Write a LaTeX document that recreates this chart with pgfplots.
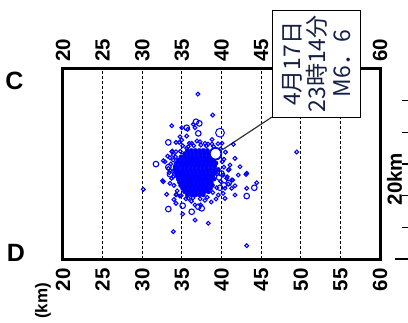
\documentclass[border=0pt]{standalone}
\usepackage{pgfplots}
\pgfplotsset{compat=1.18}
\usepackage{fontspec}
\setmainfont{Liberation Sans}
\newfontfamily\cjk{Noto Sans CJK JP}
\usetikzlibrary{calc}
\definecolor{annot}{RGB}{20,30,70}
\definecolor{leader}{RGB}{50,50,50}
\tikzset{secfont/.style={font=\bfseries\fontsize{20.5bp}{20.5bp}\selectfont}}
\pgfplotsset{
  base/.style={width=317bp,height=190bp,scale only axis,
    xmin=20,xmax=60,ymin=0,ymax=24,
    xtick={20,25,...,60},ytick=\empty,major tick length=0pt,
    /pgf/number format/assume math mode=true}
}
\begin{document}
\begin{tikzpicture}
\begin{axis}[name=ax, base, clip=false,
  axis line style={line width=3bp},
  xmajorgrids, major grid style={black, line width=1.1bp, dash pattern=on 3bp off 2bp},
  xticklabel style={secfont, rotate=90, anchor=east, inner sep=0pt},
  xticklabel shift=9bp]
% dense core of the aftershock cluster
\addplot[only marks, mark=*, mark size=2.2bp, color=blue,
  mark options={draw=blue, fill=blue, line width=0.4bp}] coordinates {
(35.7,13.7)(36.2,13.7)(36.7,13.7)(37.2,13.7)(37.7,13.7)(38.2,13.7)
(35.35,13.3)(35.85,13.3)(36.35,13.3)(36.85,13.3)(37.35,13.3)(37.85,13.3)(38.35,13.3)(38.85,13.3)
(34.9,12.9)(35.4,12.9)(35.9,12.9)(36.4,12.9)(36.9,12.9)(37.4,12.9)(37.9,12.9)(38.4,12.9)(38.9,12.9)
(34.55,12.5)(35.05,12.5)(35.55,12.5)(36.05,12.5)(36.55,12.5)(37.05,12.5)(37.55,12.5)(38.05,12.5)(38.55,12.5)(39.05,12.5)
(34.3,12.1)(34.8,12.1)(35.3,12.1)(35.8,12.1)(36.3,12.1)(36.8,12.1)(37.3,12.1)(37.8,12.1)(38.3,12.1)(38.8,12.1)(39.3,12.1)
(34.15,11.7)(34.65,11.7)(35.15,11.7)(35.65,11.7)(36.15,11.7)(36.65,11.7)(37.15,11.7)(37.65,11.7)(38.15,11.7)(38.65,11.7)(39.15,11.7)
(34.1,11.3)(34.6,11.3)(35.1,11.3)(35.6,11.3)(36.1,11.3)(36.6,11.3)(37.1,11.3)(37.6,11.3)(38.1,11.3)(38.6,11.3)(39.1,11.3)(39.6,11.3)
(34.25,10.9)(34.75,10.9)(35.25,10.9)(35.75,10.9)(36.25,10.9)(36.75,10.9)(37.25,10.9)(37.75,10.9)(38.25,10.9)(38.75,10.9)(39.25,10.9)
(34.4,10.5)(34.9,10.5)(35.4,10.5)(35.9,10.5)(36.4,10.5)(36.9,10.5)(37.4,10.5)(37.9,10.5)(38.4,10.5)(38.9,10.5)
(34.55,10.1)(35.05,10.1)(35.55,10.1)(36.05,10.1)(36.55,10.1)(37.05,10.1)(37.55,10.1)(38.05,10.1)(38.55,10.1)(39.05,10.1)
(34.7,9.7)(35.2,9.7)(35.7,9.7)(36.2,9.7)(36.7,9.7)(37.2,9.7)(37.7,9.7)(38.2,9.7)(38.7,9.7)
(34.85,9.3)(35.35,9.3)(35.85,9.3)(36.35,9.3)(36.85,9.3)(37.35,9.3)(37.85,9.3)(38.35,9.3)(38.85,9.3)
(35.1,8.9)(35.6,8.9)(36.1,8.9)(36.6,8.9)(37.1,8.9)(37.6,8.9)(38.1,8.9)(38.6,8.9)
(35.35,8.5)(35.85,8.5)(36.35,8.5)(36.85,8.5)(37.35,8.5)(37.85,8.5)(38.35,8.5)
(35.7,8.1)(36.2,8.1)(36.7,8.1)(37.2,8.1)(37.7,8.1)
};
% small events
\addplot[only marks, mark=o, mark size=1.9bp, color=blue, mark options={line width=1.1bp}] coordinates {
(37.03,20.83)(38.89,18.18)(33.72,16.83)(34.98,16.58)(35.73,16.38)(36.44,17.01)(36.66,16.58)
(35.61,15.53)(34.76,15.44)(34.98,15.03)(34.67,14.73)(34.26,14.73)(35.94,14.61)(37.92,14.61)
(38.30,14.52)(38.80,14.52)(39.56,14.56)(40.06,14.61)(41.49,14.48)(33.72,13.55)(33.92,13.13)
(35.81,14.18)(36.24,14.61)(37.29,14.81)(41.70,12.71)(32.66,12.41)(33.29,11.45)(41.07,11.87)
(42.33,11.65)(40.86,11.24)(43.18,10.82)(42.12,10.61)(40.66,10.19)(41.29,9.97)(32.66,9.76)
(33.50,9.56)(33.92,10.39)(30.13,8.80)(33.08,8.17)(34.26,8.08)(34.76,7.95)(40.86,9.47)
(41.70,9.25)(43.18,8.93)(41.70,8.08)(40.44,7.66)(39.60,8.08)(44.44,9.63)(34.26,7.03)
(35.10,5.68)(35.81,7.66)(36.66,6.82)(37.37,6.82)(36.66,4.92)(38.33,4.51)(39.31,7.58)
(33.92,3.45)(43.18,1.68)(49.49,13.51)(43.09,10.69)(40.95,11.33)(40.73,10.39)(41.41,9.97)
(41.29,8.93)(40.44,8.93)(32.57,9.89)(34.30,8.17)(33.79,13.64)(34.26,13.55)(32.87,12.29)
(33.5,12.8)(33.4,10.9)(40.3,12.6)(40.5,13.5)(35.1,14.3)(36.9,14.9)(38.8,15.1)(33.2,13.0)
(40.2,8.3)(34.0,7.5)(38.7,7.2)(37.9,7.4)(36.2,7.3)
(33.6,12.0)(33.5,11.2)(33.7,10.2)(34.0,9.3)(34.4,8.6)(34.9,8.0)(35.5,7.6)(36.4,7.7)
(37.3,7.6)(38.2,7.8)(38.9,8.4)(39.4,9.0)(39.9,9.8)(40.2,10.6)(40.3,11.6)(40.1,12.3)
(39.9,13.9)(39.0,14.2)(38.1,14.3)(37.4,14.4)(36.5,14.3)(35.6,14.0)(34.8,13.6)(34.2,12.9)(33.9,12.5)
};
% medium events
\addplot[only marks, mark=o, mark size=2.8bp, color=blue, mark options={line width=1.1bp}] coordinates {
(35.61,16.58)(36.78,17.34)(37.20,17.13)(37.07,15.87)(33.29,14.73)(31.73,11.99)(39.81,9.00)
(43.18,7.95)(44.14,9.00)(33.29,6.31)(35.10,6.73)(36.24,5.97)(37.07,6.60)(37.50,6.40)
(39.4,10.9)(40.0,10.8)(39.7,10.3)(33.3,11.6)(33.5,10.7)(34.2,11.1)(40.3,9.3)(40.9,9.6)
};
% large event
\addplot[only marks, mark=o, mark size=4.4bp, color=blue, mark options={line width=1bp}] coordinates {(39.81,15.95)};
% main shock
\addplot[only marks, mark=*, mark size=5.8bp, color=blue,
  mark options={draw=blue, fill=white, line width=1.8bp}] coordinates {(39.25,13.3)};
% scale bar (20 km)
\draw[black, line width=1.1bp] (axis cs:61.9,0) -- (axis cs:63.55,0);
\pgfplotsinvokeforeach{4,8,12,16,20}{\draw[black, line width=1.1bp] (axis cs:62.75,#1) -- (axis cs:63.55,#1);}
\node[secfont, rotate=90, inner sep=0pt] at (axis cs:61.83,10.1) {20km};
\node[font=\bfseries\fontsize{25bp}{25bp}\selectfont, inner sep=0pt] at (axis cs:13.88,22.47) {C};
\node[font=\bfseries\fontsize{25bp}{25bp}\selectfont, inner sep=0pt] at (axis cs:14.07,0.82) {D};
\node[font=\bfseries\fontsize{17bp}{17bp}\selectfont, rotate=90, inner sep=0pt] at (axis cs:17.48,-5.3) {(km)};
\draw[leader, line width=1.2bp] (axis cs:46.37,17.93) -- (axis cs:40.19,13.86);
\coordinate (boxc) at (axis cs:51.99,24.66);
\end{axis}
\begin{axis}[base, at={(ax.south west)}, anchor=south west,
  axis x line*=top, axis y line=none, axis line style={draw=none},
  xticklabel style={secfont, rotate=90, anchor=west, inner sep=0pt},
  xticklabel shift=7bp]
\addplot[draw=none, forget plot] coordinates {(20,0)};
\end{axis}
\node[draw=black, line width=0.9bp, fill=white, rotate=90, minimum width=107bp,
  minimum height=88.5bp, inner sep=0pt, align=center, text=annot,
  font=\cjk\fontsize{23bp}{25bp}\selectfont] at (boxc) {4月17日\\23時14分\\M6．6};
\pgfresetboundingbox
\path[use as bounding box] ($(ax.south west)+(-63bp,-64bp)$) rectangle ($(ax.south west)+(345bp,259bp)$);
\end{tikzpicture}
\end{document}
